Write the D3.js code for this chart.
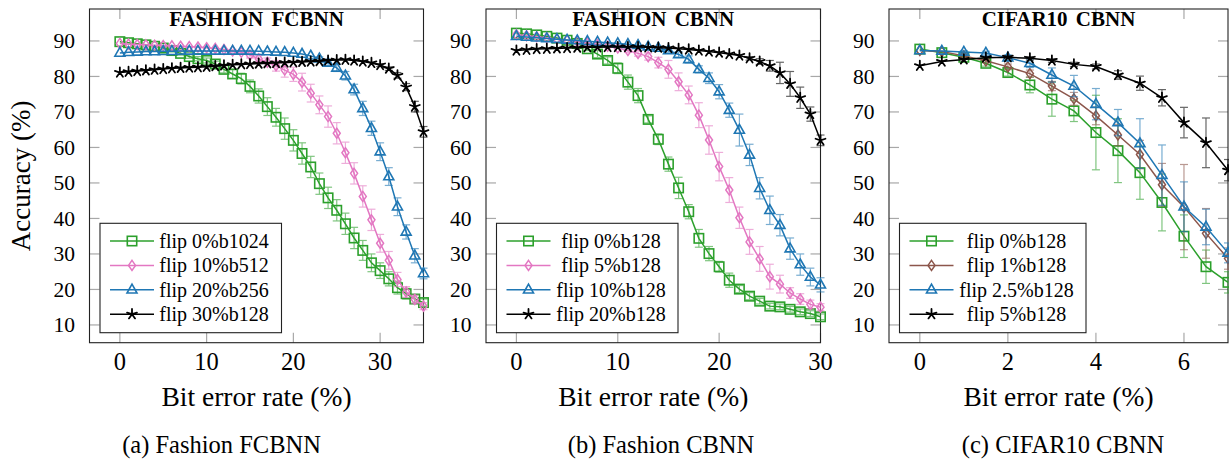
<!DOCTYPE html>
<html><head><meta charset="utf-8">
<script src="https://cdn.jsdelivr.net/npm/d3@7"></script>
<style>
html,body{margin:0;padding:0;background:#fff;}
svg text{font-family:"Liberation Serif","Times New Roman",serif;fill:#000;}
</style></head>
<body><svg id="chart" width="1229" height="462"></svg>
<script>
// ---------------- DATA ----------------
const yTicks = [10, 20, 30, 40, 50, 60, 70, 80, 90];

// (a) Fashion FCBNN
const xA = [0,1,2,3,4,5,6,7,8,9,10,11,12,13,14,15,16,17,18,19,20,21,22,23,24,25,26,27,28,29,30,31,32,33,34,35];
const xTicksA = [0, 10, 20, 30];
const labelsA = ["flip 0%b1024", "flip 10%b512", "flip 20%b256", "flip 30%b128"];
const aGreen = [89.8,89.5,89.2,88.9,88.5,88.0,87.3,86.5,85.6,85.0,84.5,83.5,82.0,80.7,79.4,77.2,74.5,71.5,68.5,65.3,62.0,58.3,54.5,49.8,45.8,42.3,38.5,34.5,31.0,27.5,25.3,23.0,20.5,18.8,17.3,16.3];
const aGreenErr = [0.3,0.3,0.3,0.3,0.3,0.4,0.4,0.5,0.5,0.6,0.7,0.8,1,1.2,1.5,1.8,2,2.5,2.5,3,3,3,3,3,3,3,3,3,2.8,2.5,2.2,2,1.8,1.5,1.2,1];
const aPink = [89.3,89.1,89.0,88.9,88.8,88.7,88.6,88.5,88.4,88.3,88.1,87.9,87.6,87.2,86.8,86.0,85.0,84.0,83.0,81.8,80.6,78.4,75.3,72.0,68.7,64.0,58.5,52.7,46.2,39.6,33.0,28.2,22.8,19.3,17.2,15.3];
const aPinkErr = [0.3,0.3,0.3,0.3,0.3,0.3,0.3,0.3,0.3,0.3,0.3,0.3,0.3,0.4,0.5,0.8,1,1.2,1.5,2,2,2.5,2.5,2.5,3,3,3,3,3,3,2.5,2.5,2,1.5,1.2,1];
const aBlue = [86.6,86.8,86.9,87.0,87.0,87.1,87.1,87.2,87.2,87.2,87.2,87.2,87.2,87.2,87.2,87.2,87.1,87.0,86.9,86.8,86.6,86.3,85.8,85.0,83.8,82.4,80.2,76.3,71.0,65.4,58.8,51.8,43.3,36.2,29.5,24.5];
const aBlueErr = [0.3,0.3,0.3,0.3,0.3,0.3,0.3,0.3,0.3,0.3,0.3,0.3,0.3,0.3,0.3,0.3,0.3,0.3,0.3,0.3,0.3,0.3,0.3,0.5,0.8,1,1.2,1.5,2,2,2.5,2.5,2.5,2,2,1.5];
const aBlack = [81.1,81.3,81.5,81.7,81.9,82.1,82.3,82.4,82.5,82.6,82.7,82.9,83.1,83.3,83.4,83.5,83.6,83.7,83.8,83.9,84.0,84.1,84.2,84.3,84.5,84.6,84.7,84.5,84.2,83.8,83.2,82.2,80.3,77.0,71.5,64.4];
const aBlackErr = [0.3,0.3,0.3,0.3,0.3,0.3,0.3,0.3,0.3,0.3,0.3,0.3,0.3,0.3,0.3,0.3,0.3,0.3,0.3,0.3,0.3,0.3,0.3,0.3,0.3,0.3,0.3,0.3,0.3,0.3,0.4,0.5,0.8,1,1.5,1.5];

// (b) Fashion CBNN
const xB = [0,1,2,3,4,5,6,7,8,9,10,11,12,13,14,15,16,17,18,19,20,21,22,23,24,25,26,27,28,29,30];
const xTicksB = [0, 10, 20, 30];
const labelsB = ["flip 0%b128", "flip 5%b128", "flip 10%b128", "flip 20%b128"];
const bGreen = [92.2,92.0,91.7,91.3,90.8,90.2,89.3,87.8,86.3,84.5,82.3,78.4,74.6,67.9,62.3,55.3,48.6,41.9,34.4,30.1,26.4,22.6,20.1,18.1,16.7,15.3,15.1,14.4,13.7,13.2,12.3];
const bGreenErr = [0.3,0.3,0.3,0.3,0.3,0.3,0.3,0.5,1,1,1.5,2,2,1,1.5,2,3,2,2.5,2,1.5,2,1,1,0.8,0.8,0.8,0.8,0.8,0.8,0.8];
const bPink = [91.8,91.5,91.2,90.9,90.5,90.2,89.8,89.4,89.0,88.5,88.0,87.3,86.5,85.6,83.9,82.0,78.5,74.8,69.1,62.1,54.6,48.0,40.2,33.4,28.6,23.6,21.5,19.0,17.3,15.8,15.0];
const bPinkErr = [0.3,0.3,0.3,0.3,0.3,0.3,0.3,0.3,0.3,0.3,0.3,0.5,0.8,1,1.5,2.5,2.5,2.5,3.5,4,4,3.5,3,3.5,3.5,3.5,2.5,1.5,1.5,1.2,1];
const bBlue = [91.3,91.1,90.9,90.7,90.5,90.3,90.1,89.9,89.7,89.5,89.3,89.1,88.8,88.4,88.0,87.3,86.2,84.8,82.0,79.5,75.7,70.5,64.9,57.9,48.5,42.3,38.1,31.5,27.0,23.5,21.3];
const bBlueErr = [0.3,0.3,0.3,0.3,0.3,0.3,0.3,0.3,0.3,0.3,0.3,0.3,0.3,0.3,0.3,0.5,0.8,1,1,1.5,2,2,4.5,3,3,4,3,3,3,2.5,2];
const bBlack = [87.3,87.5,87.7,87.8,87.9,88.0,88.1,88.2,88.2,88.3,88.3,88.3,88.3,88.2,88.1,88.0,87.8,87.6,87.3,87.0,86.7,86.3,85.9,85.1,84.2,83.0,81.0,77.9,74.0,69.4,62.0];
const bBlackErr = [0.3,0.3,0.3,0.3,0.3,0.3,0.3,0.3,0.3,0.3,0.3,0.3,0.3,0.3,0.3,0.3,0.3,0.3,0.3,0.3,0.3,0.3,0.3,0.5,0.8,1.5,3,3.5,3,2,1.5];

// (c) CIFAR10 CBNN
const xC = [0,0.5,1,1.5,2,2.5,3,3.5,4,4.5,5,5.5,6,6.5,7];
const xTicksC = [0, 2, 4, 6];
const labelsC = ["flip 0%b128", "flip 1%b128", "flip 2.5%b128", "flip 5%b128"];
const cGreen = [87.7,86.7,85.4,83.7,81.1,77.6,73.6,70.3,64.2,59.1,52.9,44.5,35.0,26.4,22.0];
const cGreenErr = [0.3,0.3,0.4,0.8,1,2.2,4.8,3,10.5,9,7.5,8,6,4.7,3];
const cBrown = [87.3,87.0,85.8,84.4,82.7,80.8,77.3,73.7,68.9,63.5,58.0,49.5,43.2,35.8,28.7];
const cBrownErr = [0.3,0.3,0.4,0.5,0.8,1,1.3,1.8,2.5,3,4,6,12,7,3];
const cBlue = [87.3,87.2,86.9,86.6,85.3,83.7,80.4,77.3,72.2,67.0,61.1,52.2,43.3,37.6,30.3];
const cBlueErr = [0.3,0.3,0.4,0.5,0.8,1.2,2,3,4.4,3.7,7,8.5,7,5,2.8];
const cBlack = [83.0,84.2,84.8,85.3,85.4,85.1,84.5,83.4,82.8,80.4,78.1,74.0,67.0,61.3,53.6];
const cBlackErr = [0.3,0.3,0.3,0.3,0.4,0.5,0.5,0.6,0.7,1.2,2,2.3,4.3,7,3];

const titles = ["FASHION FCBNN", "FASHION CBNN", "CIFAR10 CBNN"];
const captions = ["(a) Fashion FCBNN", "(b) Fashion CBNN", "(c) CIFAR10 CBNN"];

// ---------------- STYLE / LAYOUT ----------------
const COL = {green:"#2ca02c", pink:"#e377c2", blue:"#1f77b4", black:"#000000", brown:"#8c564b"};
const svg = d3.select("#chart");

const panels = [
  {left:89.5, right:423.5, xdom:[-3.5,35], x:xA, ticks:xTicksA, labels:labelsA, title:titles[0], caption:captions[0], capX:221.5, legW:181.5, legTxt:114,
   series:[{y:aGreen,e:aGreenErr,c:COL.green,m:"square"},{y:aPink,e:aPinkErr,c:COL.pink,m:"diamond"},{y:aBlue,e:aBlueErr,c:COL.blue,m:"triangle"},{y:aBlack,e:aBlackErr,c:COL.black,m:"star"}]},
  {left:486, right:820.5, xdom:[-3,30], x:xB, ticks:xTicksB, labels:labelsB, title:titles[1], caption:captions[1], capX:661, legW:181.5, legTxt:114.5,
   series:[{y:bGreen,e:bGreenErr,c:COL.green,m:"square"},{y:bPink,e:bPinkErr,c:COL.pink,m:"diamond"},{y:bBlue,e:bBlueErr,c:COL.blue,m:"triangle"},{y:bBlack,e:bBlackErr,c:COL.black,m:"star"}]},
  {left:889, right:1228, xdom:[-0.7,7], x:xC, ticks:xTicksC, labels:labelsC, title:titles[2], caption:captions[2], capX:1063, legW:186.5, legTxt:117,
   series:[{y:cGreen,e:cGreenErr,c:COL.green,m:"square"},{y:cBrown,e:cBrownErr,c:COL.brown,m:"diamond"},{y:cBlue,e:cBlueErr,c:COL.blue,m:"triangle"},{y:cBlack,e:cBlackErr,c:COL.black,m:"star"}]}
];
const plotTop = 9, plotBottom = 342.7;
const y = d3.scaleLinear().domain([5, 99]).range([plotBottom, plotTop]);

function drawMarker(g, type, cx, cy, color) {
  if (type === "square") {
    g.append("rect").attr("x", cx-4.7).attr("y", cy-4.7).attr("width", 9.4).attr("height", 9.4)
      .attr("fill","none").attr("stroke",color).attr("stroke-width",1.6);
  } else if (type === "diamond") {
    g.append("path").attr("d", `M${cx},${cy-5}L${cx+3.5},${cy}L${cx},${cy+5}L${cx-3.5},${cy}Z`)
      .attr("fill","none").attr("stroke",color).attr("stroke-width",1.5);
  } else if (type === "triangle") {
    g.append("path").attr("d", `M${cx},${cy-5.6}L${cx+5},${cy+3.2}L${cx-5},${cy+3.2}Z`)
      .attr("fill","none").attr("stroke",color).attr("stroke-width",1.6).attr("stroke-linejoin","miter");
  } else {
    let d = "";
    for (let k = 0; k < 5; k++) {
      const a = -Math.PI/2 + k*2*Math.PI/5;
      d += `M${cx},${cy}L${cx+5.2*Math.cos(a)},${cy+5.2*Math.sin(a)}`;
    }
    g.append("path").attr("d", d).attr("fill","none").attr("stroke",color).attr("stroke-width",1.8).attr("stroke-linecap","round");
  }
}

panels.forEach(p => {
  const x = d3.scaleLinear().domain(p.xdom).range([p.left, p.right]);
  const g = svg.append("g");
  const tickCol = "#a8a8a8";
  const tg = g.append("g").attr("stroke", tickCol).attr("stroke-width", 1.2);
  p.ticks.forEach(t => {
    tg.append("line").attr("x1", x(t)).attr("x2", x(t)).attr("y1", plotBottom).attr("y2", plotBottom-10);
    tg.append("line").attr("x1", x(t)).attr("x2", x(t)).attr("y1", plotTop).attr("y2", plotTop+10);
  });
  yTicks.forEach(t => {
    tg.append("line").attr("x1", p.left).attr("x2", p.left+10).attr("y1", y(t)).attr("y2", y(t));
    tg.append("line").attr("x1", p.right).attr("x2", p.right-10).attr("y1", y(t)).attr("y2", y(t));
  });
  p.ticks.forEach(t => {
    g.append("text").attr("x", x(t)).attr("y", 369.7).attr("text-anchor","middle")
      .attr("font-size", 24.5).text(d3.format("d")(t));
  });
  yTicks.forEach(t => {
    g.append("text").attr("x", p.left-14.5).attr("y", y(t)+7.2).attr("text-anchor","end")
      .attr("font-size", 21.5).text(t);
  });
  g.append("rect").attr("x", p.left).attr("y", plotTop).attr("width", p.right-p.left).attr("height", plotBottom-plotTop)
    .attr("fill","none").attr("stroke","#222").attr("stroke-width",1.1);
  g.append("text").attr("x", (p.left+p.right)/2).attr("y", 25.5).attr("text-anchor","middle")
    .attr("font-size", 21).attr("font-weight","bold").attr("word-spacing","3px").text(p.title);

  p.series.forEach(s => {
    const sg = g.append("g");
    const eg = sg.append("g").attr("stroke", s.c).attr("stroke-width", 1.2).attr("opacity", 0.6);
    p.x.forEach((xv, i) => {
      const e = s.e[i];
      if (e < 0.35) return;
      const px = x(xv), y1 = y(s.y[i]+e), y2 = y(s.y[i]-e);
      eg.append("line").attr("x1",px).attr("x2",px).attr("y1",y1).attr("y2",y2);
      eg.append("line").attr("x1",px-4).attr("x2",px+4).attr("y1",y1).attr("y2",y1);
      eg.append("line").attr("x1",px-4).attr("x2",px+4).attr("y1",y2).attr("y2",y2);
    });
    const line = d3.line().x((d,i) => x(p.x[i])).y(d => y(d));
    sg.append("path").attr("d", line(s.y)).attr("fill","none").attr("stroke", s.c).attr("stroke-width", 1.5);
    p.x.forEach((xv, i) => drawMarker(sg, s.m, x(xv), y(s.y[i]), s.c));
  });

  const lx = p.left + 10.5, ly = 223.3, lh = 109.4;
  const lg = g.append("g");
  lg.append("rect").attr("x", lx).attr("y", ly).attr("width", p.legW).attr("height", lh)
    .attr("fill","#fff").attr("stroke","#222").attr("stroke-width",1.1);
  p.series.forEach((s, i) => {
    const ry = ly + 17.7 + i*24.4;
    lg.append("line").attr("x1", lx+10).attr("x2", lx+54).attr("y1", ry).attr("y2", ry)
      .attr("stroke", s.c).attr("stroke-width", 1.5);
    drawMarker(lg, s.m, lx+32, ry, s.c);
    lg.append("text").attr("x", lx + p.legTxt).attr("y", ry+7).attr("text-anchor","middle")
      .attr("font-size", 20).text(p.labels[i]);
  });

  g.append("text").attr("x", (p.left+p.right)/2).attr("y", 405.5).attr("text-anchor","middle")
    .attr("font-size", 27.5).text("Bit error rate (%)");
  g.append("text").attr("x", p.capX).attr("y", 453).attr("text-anchor","middle")
    .attr("font-size", 24.5).text(p.caption);
});

svg.append("text").attr("transform", `translate(30,${(plotTop+plotBottom)/2}) rotate(-90)`)
  .attr("text-anchor","middle").attr("font-size", 27).text("Accuracy (%)");
</script></body></html>
